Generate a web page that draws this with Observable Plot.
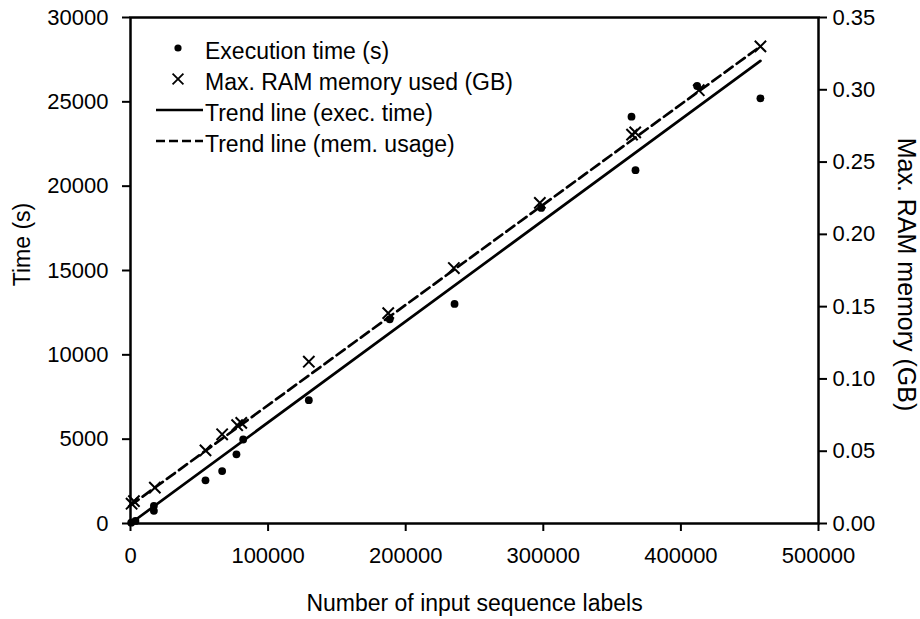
<!DOCTYPE html>
<html>
<head>
<meta charset="utf-8">
<script src="https://cdn.jsdelivr.net/npm/d3@7"></script>
<script src="https://cdn.jsdelivr.net/npm/@observablehq/plot@0.6"></script>
<style>
  html, body { margin: 0; padding: 0; background: #fff; }
  #chart { width: 920px; height: 619px; }
</style>
</head>
<body>
<div id="chart"></div>
<script>
// ---- data ----
const execLabels = [500, 3600, 17000, 17000, 54500, 66600, 77000, 81900, 129600, 188400, 235500, 298500, 364100, 367000, 411800, 457800];
const execTime   = [50, 150, 1050, 750, 2560, 3110, 4100, 4980, 7310, 12110, 13020, 18710, 24120, 20950, 25940, 25210];

const memLabels = [800, 2500, 17700, 54500, 66600, 77500, 80500, 129600, 187300, 235000, 297500, 364500, 366800, 413000, 457800];
const memGB     = [0.0137, 0.0155, 0.0248, 0.0506, 0.0617, 0.0680, 0.0696, 0.1119, 0.1455, 0.1767, 0.2218, 0.2690, 0.2705, 0.2997, 0.3300];

const trendX       = [0, 457800];
const trendTimeY   = [0, 27430];
const trendMemGB   = [0.0125, 0.330];

const xTicks      = [0, 100000, 200000, 300000, 400000, 500000];
const xTickLabels = ["0", "100000", "200000", "300000", "400000", "500000"];
const yTicks      = [0, 5000, 10000, 15000, 20000, 25000, 30000];
const yTickLabels = ["0", "5000", "10000", "15000", "20000", "25000", "30000"];
const memTicks      = [0, 0.05, 0.10, 0.15, 0.20, 0.25, 0.30, 0.35];
const memTickLabels = ["0.00", "0.05", "0.10", "0.15", "0.20", "0.25", "0.30", "0.35"];

const legendLabels = ["Execution time (s)", "Max. RAM memory used (GB)", "Trend line (exec. time)", "Trend line (mem. usage)"];
const xTitle = "Number of input sequence labels";
const yTitle = "Time (s)";
const y2Title = "Max. RAM memory (GB)";

// secondary axis: 0.35 GB aligned with 30000 s
const timeMax = 30000, memMax = 0.35;
const toTime = g => g * timeMax / memMax;

const execData = execLabels.map((x, i) => ({x, y: execTime[i]}));
const memData = memLabels.map((x, i) => ({x, g: memGB[i]}));
const trendT = trendX.map((x, i) => ({x, y: trendTimeY[i]}));
const trendM = trendX.map((x, i) => ({x, g: trendMemGB[i]}));
const memTickTimes = memTicks.map(toTime);

const font = "'Liberation Sans', Arial, sans-serif";

const chart = Plot.plot({
  width: 920,
  height: 619,
  marginLeft: 130,
  marginRight: 102,
  marginTop: 17,
  marginBottom: 96,
  style: {fontFamily: font, fontSize: "22px", color: "#000", background: "#fff"},
  x: {domain: [0, 500000]},
  y: {domain: [0, timeMax]},
  marks: [
    Plot.axisX({ticks: xTicks, tickFormat: d => xTickLabels[xTicks.indexOf(d)], tickSize: 8, tickPadding: 16, strokeWidth: 2, label: null, fontSize: 22}),
    Plot.axisY({ticks: yTicks, tickFormat: d => yTickLabels[yTicks.indexOf(d)], tickSize: 8, tickPadding: 14, strokeWidth: 2, label: null, fontSize: 22}),
    Plot.axisY({anchor: "right", ticks: memTickTimes, tickFormat: d => memTickLabels[memTickTimes.indexOf(d)], tickSize: 8, tickPadding: 6, strokeWidth: 2, label: null, fontSize: 22}),
    Plot.line(trendT, {x: "x", y: "y", stroke: "#000", strokeWidth: 2.7}),
    Plot.line(trendM, {x: "x", y: d => toTime(d.g), stroke: "#000", strokeWidth: 2.7, strokeDasharray: "10,5"}),
    Plot.dot(execData, {x: "x", y: "y", r: 3.9, fill: "#000", stroke: "none"}),
    Plot.dot(memData, {x: "x", y: d => toTime(d.g), symbol: "times", r: 5.2, stroke: "#000", strokeWidth: 2}),
    Plot.frame({stroke: "#000", strokeWidth: 2.5}),
    Plot.text([xTitle], {frameAnchor: "bottom", dy: 87, fontSize: 23, fill: "#000", textAnchor: "middle"}),
    Plot.text([yTitle], {frameAnchor: "left", dx: -108, dy: -26, rotate: -90, fontSize: 23, fill: "#000", textAnchor: "middle"}),
    Plot.text([y2Title], {frameAnchor: "right", dx: 87, dy: 4, rotate: 90, fontSize: 25, fill: "#000", textAnchor: "middle"})
  ]
});

// legend inside the plot area (top-left)
const svg = d3.select(chart);
const lg = svg.append("g").attr("font-family", font).attr("font-size", 23).attr("fill", "#000").attr("text-anchor", "start");
const rowY = [48, 79, 110, 141];
const markX = 178, textX = 205;
lg.append("circle").attr("cx", markX).attr("cy", rowY[0]).attr("r", 3.6).attr("fill", "#000");
lg.append("path").attr("d", d3.symbol(d3.symbolTimes, Math.PI * 25)()).attr("transform", `translate(${markX},${rowY[1]})`).attr("stroke", "#000").attr("stroke-width", 1.8).attr("fill", "none");
lg.append("line").attr("x1", 156).attr("x2", 203).attr("y1", rowY[2]).attr("y2", rowY[2]).attr("stroke", "#000").attr("stroke-width", 2.5);
lg.append("line").attr("x1", 156).attr("x2", 203).attr("y1", rowY[3]).attr("y2", rowY[3]).attr("stroke", "#000").attr("stroke-width", 2.5).attr("stroke-dasharray", "9,4");
legendLabels.forEach((t, i) => {
  lg.append("text").attr("x", textX).attr("y", rowY[i] + 5).attr("dominant-baseline", "middle").attr("text-anchor", "start").text(t);
});

document.getElementById("chart").appendChild(chart);
</script>
</body>
</html>
